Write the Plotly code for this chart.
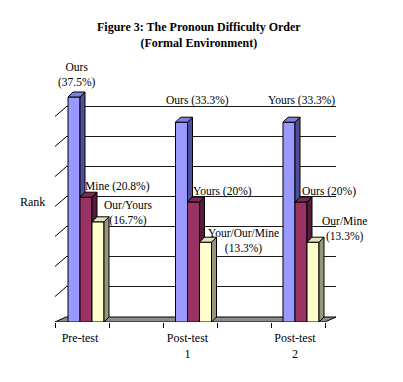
import numpy as np
import plotly.graph_objects as go

# ---------------- data ----------------
CATEGORIES = ["Pre-test", "Post-test<br>1", "Post-test<br>2"]
HIGH = [37.5, 33.3, 33.3]
MID = [20.8, 20.0, 20.0]
LOW = [16.7, 13.3, 13.3]
HIGH_NAMES = ["Ours", "Ours", "Yours"]
MID_NAMES = ["Mine", "Yours", "Ours"]
LOW_NAMES = ["Our/Yours", "Your/Our/Mine", "Our/Mine"]
GRID_VALUES = [5, 10, 15, 20, 25, 30, 35]

# ---------------- geometry / style ----------------
W, H = 403, 382
PX_CAT0, PX_PER_CAT = 86.0, 107.5     # front face group centre of category 0
PX_BASE, PX_PER_UNIT = 322.0, 6.0     # front baseline, pixels per percent

def dx(px):
    return px / PX_PER_CAT

def dy(px):
    return px / PX_PER_UNIT

X_LO = (55 - PX_CAT0) / PX_PER_CAT       # front-left corner of floor
X_HI = (325 - PX_CAT0) / PX_PER_CAT      # front-right corner of floor
WALL_DX, WALL_DY = dx(11), dy(5)         # depth of the back wall
BAR_W = dx(12)
BAR_DX, BAR_DY = dx(5), dy(5)            # depth of each bar
LABEL_SHIFT = dx(-6)
CRISP = dy(0.5)

FRONT = ["#9999FF", "#993366", "#FFFFCC"]
CAP = ["#7f7fdc", "#7a2a55", "#e2e2bc"]
SIDE = ["#4e4e9c", "#561a3a", "#96967c"]
SERIES = [HIGH, MID, LOW]
NAMES = [HIGH_NAMES, MID_NAMES, LOW_NAMES]
FONT = "Liberation Serif, Times New Roman, serif"

xs = np.arange(len(CATEGORIES), dtype=float)
offsets = [-1.5 * BAR_W, -0.5 * BAR_W, 0.5 * BAR_W]

fig = go.Figure()
for j, vals in enumerate(SERIES):
    fig.add_trace(go.Bar(
        x=xs, y=vals, width=BAR_W, offset=offsets[j],
        marker=dict(color=FRONT[j], line=dict(color="black", width=1)),
        showlegend=False, hoverinfo="skip"))

shapes = []
# floor
shapes.append(dict(
    type="path", layer="below", xref="x", yref="y",
    path=f"M{X_LO},0 L{X_HI},0 L{X_HI + WALL_DX},{WALL_DY} L{X_LO + WALL_DX},{WALL_DY} Z",
    fillcolor="#8c8c8c", line=dict(color="black", width=1)))
# back wall grid lines and left diagonal ticks
for v in GRID_VALUES:
    shapes.append(dict(type="line", layer="below", xref="x", yref="y",
                       x0=X_LO + WALL_DX, x1=X_HI + WALL_DX,
                       y0=v + WALL_DY + CRISP, y1=v + WALL_DY + CRISP,
                       line=dict(color="#1a1a1a", width=1)))
    shapes.append(dict(type="line", layer="below", xref="x", yref="y",
                       x0=X_LO, x1=X_LO + WALL_DX,
                       y0=v - dy(4.5), y1=v + WALL_DY,
                       line=dict(color="black", width=1)))
# 3D caps and sides of the bars
for i, xc in enumerate(xs):
    for j, vals in enumerate(SERIES):
        v = vals[i]
        xl = xc + offsets[j]
        xr = xl + BAR_W
        lo = SERIES[j + 1][i] if j + 1 < len(SERIES) else 0.0
        shapes.append(dict(
            type="path", xref="x", yref="y",
            path=f"M{xr},{lo} L{xr},{v} L{xr + BAR_DX},{v + BAR_DY} L{xr + BAR_DX},{lo + BAR_DY} Z",
            fillcolor=SIDE[j], line=dict(color="black", width=1)))
        shapes.append(dict(
            type="path", xref="x", yref="y",
            path=f"M{xl},{v} L{xr},{v} L{xr + BAR_DX},{v + BAR_DY} L{xl + BAR_DX},{v + BAR_DY} Z",
            fillcolor=CAP[j], line=dict(color="black", width=1)))

# data labels (positions in pixels)
LABEL_POS = [
    [(77, 75, True), (197, 100.5, False), (301, 100.5, False)],
    [(117.5, 186, False), (222.5, 191, False), (328.5, 191, False)],
    [(128, 213, True), (243, 241, True), (344, 229, True)],
]
annotations = []
for j, vals in enumerate(SERIES):
    for i, v in enumerate(vals):
        px, py, brk = LABEL_POS[j][i]
        sep = "<br>" if brk else " "
        annotations.append(dict(
            text=f"{NAMES[j][i]}{sep}({v:g}%)", xref="paper", yref="paper",
            x=px / W, y=1 - py / H, xanchor="center", yanchor="middle",
            showarrow=False, font=dict(size=11.5, family=FONT, color="black")))
annotations.append(dict(
    text="<b>Figure 3: The Pronoun Difficulty Order</b><br><b>(Formal Environment)</b>",
    xref="paper", yref="paper", x=198.5 / W, y=1 - 35.5 / H,
    xanchor="center", yanchor="middle", showarrow=False,
    font=dict(size=12, family=FONT, color="black")))
annotations.append(dict(
    text="Rank", xref="paper", yref="paper", x=32.5 / W, y=1 - 202 / H,
    xanchor="center", yanchor="middle", showarrow=False,
    font=dict(size=12, family=FONT, color="black")))

fig.update_layout(
    width=W, height=H, margin=dict(l=0, r=0, t=0, b=0),
    paper_bgcolor="white", plot_bgcolor="white",
    barmode="overlay", showlegend=False,
    font=dict(family=FONT, size=12, color="black"),
    shapes=shapes, annotations=annotations,
    xaxis=dict(
        domain=[0, 1], range=[-PX_CAT0 / PX_PER_CAT, (W - PX_CAT0) / PX_PER_CAT],
        tickmode="array", tickvals=list(xs + LABEL_SHIFT), ticktext=CATEGORIES,
        ticks="", showgrid=False, zeroline=False, showline=False, automargin=False,
        ticklabelstandoff=7,
        tickfont=dict(size=12, family=FONT, color="black"),
        minor=dict(tickmode="array", tickvals=list(np.linspace(X_LO, X_HI, 6)),
                   ticks="outside", ticklen=5, tickcolor="black", tickwidth=1,
                   showgrid=False)),
    yaxis=dict(
        domain=[(H - PX_BASE) / H, 1], range=[0, PX_BASE / PX_PER_UNIT],
        showgrid=False, zeroline=False, showline=False, showticklabels=False,
        ticks="", automargin=False),
)
fig.write_html(
    "out.html",
    config={"displayModeBar": False},
    post_script="document.body.style.margin='0';document.body.style.overflow='hidden';",
)
